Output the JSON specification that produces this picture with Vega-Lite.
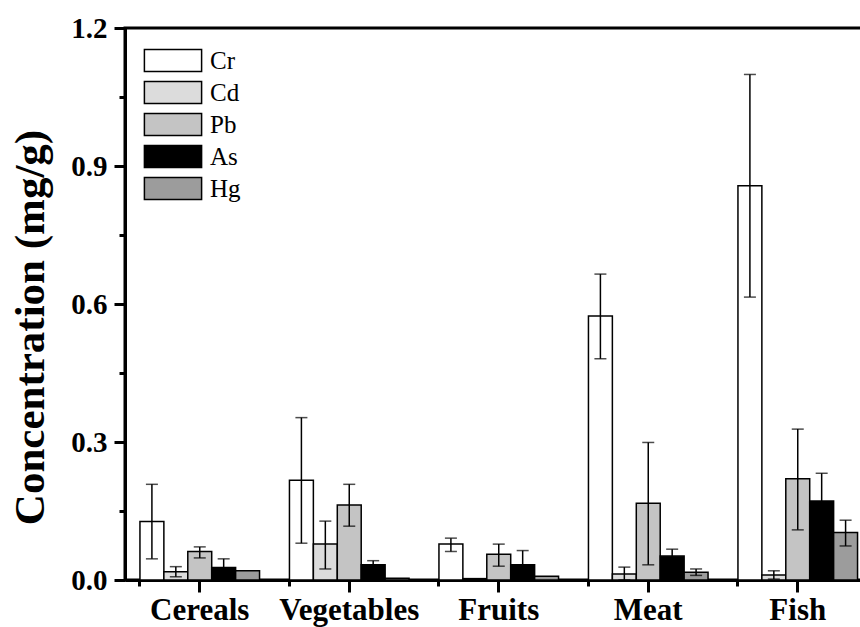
{
  "$schema": "https://vega.github.io/schema/vega-lite/v6.json",
  "autosize": {"type": "none"},
  "padding": {"left": 125, "top": 28, "right": 0, "bottom": 47},
  "width": 747.5,
  "height": 552,
  "background": "white",
  "config": {
    "view": {"stroke": "black", "strokeWidth": 3},
    "font": "Liberation Serif",
    "axis": {"grid": false, "domainColor": "black", "domainWidth": 3, "tickColor": "black", "tickWidth": 3, "labelColor": "black", "labelFont": "Liberation Serif", "labelFontWeight": "bold"},
    "legend": {"labelFont": "Liberation Serif"}
  },
  "data": {"values": [
    {"food": "Cereals", "metal": "Cr", "value": 0.127, "lo": 0.046, "hi": 0.208},
    {"food": "Cereals", "metal": "Cd", "value": 0.018, "lo": 0.007, "hi": 0.029},
    {"food": "Cereals", "metal": "Pb", "value": 0.062, "lo": 0.048, "hi": 0.072},
    {"food": "Cereals", "metal": "As", "value": 0.027, "lo": 0.008, "hi": 0.046},
    {"food": "Cereals", "metal": "Hg", "value": 0.020},
    {"food": "Vegetables", "metal": "Cr", "value": 0.217, "lo": 0.080, "hi": 0.353},
    {"food": "Vegetables", "metal": "Cd", "value": 0.078, "lo": 0.024, "hi": 0.128},
    {"food": "Vegetables", "metal": "Pb", "value": 0.163, "lo": 0.117, "hi": 0.208},
    {"food": "Vegetables", "metal": "As", "value": 0.033, "lo": 0.024, "hi": 0.042},
    {"food": "Vegetables", "metal": "Hg", "value": 0.004},
    {"food": "Fruits", "metal": "Cr", "value": 0.078, "lo": 0.062, "hi": 0.091},
    {"food": "Fruits", "metal": "Cd", "value": 0.003},
    {"food": "Fruits", "metal": "Pb", "value": 0.056, "lo": 0.030, "hi": 0.078},
    {"food": "Fruits", "metal": "As", "value": 0.033, "lo": 0.002, "hi": 0.064},
    {"food": "Fruits", "metal": "Hg", "value": 0.008},
    {"food": "Meat", "metal": "Cr", "value": 0.574, "lo": 0.481, "hi": 0.665},
    {"food": "Meat", "metal": "Cd", "value": 0.013, "lo": 0.0, "hi": 0.028},
    {"food": "Meat", "metal": "Pb", "value": 0.167, "lo": 0.033, "hi": 0.299},
    {"food": "Meat", "metal": "As", "value": 0.052, "lo": 0.037, "hi": 0.067},
    {"food": "Meat", "metal": "Hg", "value": 0.017, "lo": 0.010, "hi": 0.024},
    {"food": "Fish", "metal": "Cr", "value": 0.857, "lo": 0.615, "hi": 1.099},
    {"food": "Fish", "metal": "Cd", "value": 0.011, "lo": 0.002, "hi": 0.020},
    {"food": "Fish", "metal": "Pb", "value": 0.220, "lo": 0.109, "hi": 0.328},
    {"food": "Fish", "metal": "As", "value": 0.172, "lo": 0.112, "hi": 0.232},
    {"food": "Fish", "metal": "Hg", "value": 0.103, "lo": 0.074, "hi": 0.130}
  ]},
  "resolve": {"axis": {"x": "independent", "y": "independent"}},
  "layer": [
    {
      "mark": {"type": "bar", "stroke": "black"},
      "encoding": {
        "x": {"field": "food", "type": "nominal", "sort": ["Cereals", "Vegetables", "Fruits", "Meat", "Fish"],
              "scale": {"paddingInner": 0.2, "paddingOuter": 0.1},
              "axis": {"orient": "bottom", "title": null, "labelAngle": 0, "labelFontSize": 31, "labelPadding": 3, "tickSize": 12}},
        "xOffset": {"field": "metal", "type": "nominal", "sort": ["Cr", "Cd", "Pb", "As", "Hg"], "scale": {"paddingInner": 0, "paddingOuter": 0}},
        "y": {"field": "value", "type": "quantitative", "scale": {"domain": [0, 1.2], "nice": false},
              "axis": {"orient": "left", "values": [0, 0.3, 0.6, 0.9, 1.2], "format": ".1f", "labelFontSize": 29, "labelPadding": 7, "tickSize": 11,
                       "title": "Concentration (mg/g)", "titleFont": "Liberation Serif", "titleFontSize": 43, "titleFontWeight": "bold", "titleColor": "black",
                       "titleX": -82, "titleY": 299, "titleBaseline": "alphabetic", "titleAngle": -90}},
        "fill": {"field": "metal", "type": "nominal", "sort": ["Cr", "Cd", "Pb", "As", "Hg"],
                 "scale": {"domain": ["Cr", "Cd", "Pb", "As", "Hg"], "range": ["white", "#dcdcdc", "#c4c4c4", "black", "#9c9c9c"]},
                 "legend": {"orient": "none", "legendX": 35.5, "legendY": 20, "title": null, "padding": 0,
                            "symbolType": "M-2.6,-1H2.6V1H-2.6Z", "symbolSize": 484, "symbolStrokeColor": "black",
                            "labelFontSize": 25, "labelColor": "black", "labelOffset": 24.5, "rowPadding": 3}},
        "strokeWidth": {"field": "metal", "type": "nominal", "sort": ["Cr", "Cd", "Pb", "As", "Hg"],
                        "scale": {"domain": ["Cr", "Cd", "Pb", "As", "Hg"], "range": [1.5, 1.5, 3, 1.5, 2.5]}}
      }
    },
    {
      "mark": {"type": "rule", "color": "black", "strokeWidth": 1.5},
      "encoding": {
        "x": {"field": "food", "type": "nominal", "sort": ["Cereals", "Vegetables", "Fruits", "Meat", "Fish"],
              "axis": {"orient": "bottom", "bandPosition": 0, "labels": false, "domain": false, "tickSize": 6, "title": null}},
        "xOffset": {"field": "metal", "type": "nominal", "sort": ["Cr", "Cd", "Pb", "As", "Hg"]},
        "y": {"field": "lo", "type": "quantitative",
              "axis": {"orient": "left", "values": [0.15, 0.45, 0.75, 1.05], "labels": false, "domain": false, "tickSize": 6, "title": null}},
        "y2": {"field": "hi"}
      }
    },
    {
      "mark": {"type": "tick", "color": "black", "thickness": 1.5, "size": 12},
      "encoding": {
        "x": {"field": "food", "type": "nominal", "sort": ["Cereals", "Vegetables", "Fruits", "Meat", "Fish"], "axis": null},
        "xOffset": {"field": "metal", "type": "nominal", "sort": ["Cr", "Cd", "Pb", "As", "Hg"]},
        "y": {"field": "hi", "type": "quantitative", "axis": null}
      }
    },
    {
      "mark": {"type": "tick", "color": "black", "thickness": 1.5, "size": 12},
      "encoding": {
        "x": {"field": "food", "type": "nominal", "sort": ["Cereals", "Vegetables", "Fruits", "Meat", "Fish"], "axis": null},
        "xOffset": {"field": "metal", "type": "nominal", "sort": ["Cr", "Cd", "Pb", "As", "Hg"]},
        "y": {"field": "lo", "type": "quantitative", "axis": null}
      }
    }
  ]
}
